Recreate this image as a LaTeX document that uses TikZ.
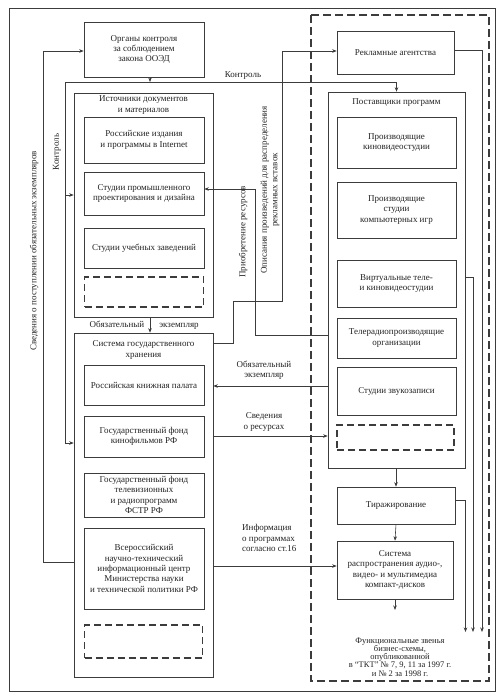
\documentclass[tikz,border=0pt]{standalone}
\usepackage{fontspec}
\setmainfont{Liberation Serif}
\usetikzlibrary{arrows.meta,calc}
\definecolor{lc}{HTML}{3C3C3C}
\definecolor{tc}{HTML}{222222}
\newcommand\dfont{\fontsize{9}{10.3}\selectfont}
\begin{document}
\begin{tikzpicture}[x=1pt,y=-1pt,
  box/.style={draw=lc, line width=0.6pt, inner sep=1pt, align=center, font=\dfont, text=tc},
  dbox/.style={draw=lc, line width=1.2pt, dash pattern=on 7pt off 4pt, inner sep=0pt},
  lbl/.style={font=\dfont, text=tc, align=center, inner sep=1pt},
  conn/.style={draw=lc, line width=0.6pt},
  arr/.style={conn, -{Stealth[length=4.5pt,width=3.5pt]}}]
\useasboundingbox (0,0) rectangle (502,699);
% frames
\draw[lc, line width=0.7pt] (9,8) rectangle (495,691);
\draw[lc, line width=1.1pt, dash pattern=on 8pt off 4pt] (311,15) rectangle (489,681);

% left column
\node[box, minimum width=120pt, minimum height=55pt] (org) at (144,49.5) {Органы контроля\\за соблюдением\\закона ООЭД};

\node[box, minimum width=139pt, minimum height=224pt] (ist) at (143.5,205) {};
\node[lbl] (istT) at (143.5,105) {Источники документов\\и материалов};
\node[box, minimum width=120pt, minimum height=46pt] (ri) at (144,140) {Российские издания\\и программы в Internet};
\node[box, minimum width=120pt, minimum height=43pt] (sp) at (144,193.5) {Студии промышленного\\проектирования и дизайна};
\node[box, minimum width=120pt, minimum height=40pt] (su) at (144,248) {Студии учебных заведений};
\node[dbox, minimum width=119pt, minimum height=30pt] (d1) at (144,292) {};

\node[box, minimum width=139pt, minimum height=344pt] (sys) at (143.5,505) {};
\node[lbl] (sysT) at (143.5,350) {Система государственного\\хранения};
\node[box, minimum width=120pt, minimum height=40pt] (rk) at (144,385) {Российская книжная палата};
\node[box, minimum width=120pt, minimum height=41pt] (gk) at (144,436.5) {Государственный фонд\\кинофильмов РФ};
\node[box, minimum width=120pt, minimum height=44pt] (gt) at (144,495) {Государственный фонд\\телевизионных\\и радиопрограмм\\ФСТР РФ};
\node[box, minimum width=120pt, minimum height=81pt] (vn) at (144,568.5) {Всероссийский\\научно-технический\\информационный центр\\Министерства науки\\и технической политики РФ};
\node[dbox, minimum width=118pt, minimum height=33pt] (d2) at (143.5,641.5) {};

% right column
\node[box, minimum width=117pt, minimum height=43pt] (ra) at (395.5,52.5) {Рекламные агентства};
\node[box, minimum width=137pt, minimum height=376pt] (pp) at (396.5,280) {};
\node[lbl] (ppT) at (396.5,103) {Поставщики программ};
\node[box, minimum width=119pt, minimum height=51pt] (kv) at (396.5,142.5) {Производящие\\киновидеостудии};
\node[box, minimum width=119pt, minimum height=56pt] (ki) at (396.5,210) {Производящие\\студии\\компьютерных игр};
\node[box, minimum width=119pt, minimum height=47pt] (vt) at (396.5,283.5) {Виртуальные теле-\\и киновидеостудии};
\node[box, minimum width=119pt, minimum height=40pt] (tr) at (396.5,338) {Телерадиопроизводящие\\организации};
\node[box, minimum width=119pt, minimum height=48pt] (sz) at (396.5,391) {Студии звукозаписи};
\node[dbox, minimum width=117pt, minimum height=25pt] (d3) at (395.5,437.5) {};
\node[box, minimum width=118pt, minimum height=37pt] (tir) at (396,505.5) {Тиражирование};
\node[box, minimum width=116pt, minimum height=58pt] (sr) at (395,570) {Система\\распространения аудио-,\\видео- и мультимедиа\\компакт-дисков};
\node[lbl, font=\fontsize{8.5}{8.2}\selectfont] (fn) at (400,657) {Функциональные звенья\\бизнес-схемы,\\опубликованной\\в “ТКТ” № 7, 9, 11 за 1997 г.\\и № 2 за 1998 г.};

% coordinates
\coordinate (kL) at (65,82);
\coordinate (a1) at (465.5,632);
\coordinate (a2) at (473,632);
\coordinate (a3) at (482,632);
\coordinate (srEnd) at (395,610);

% connectors
\draw[arr] (sys.west |- 0,562) -- (43,562) -- (43,51) -- (org.west |- 0,51);
\draw[arr] (org.south -| 150,0) -- (150,82);
\draw[arr] (kL) -- (pp.north |- kL) -- (pp.north);
\draw[arr] (kL) -- (65,443) -- (sys.west |- 0,443);
\draw[arr] (65,195) -- (ist.west |- 0,195);
\draw[arr] (sys.east |- 0,343) -- (233,343) -- (233,301) -- (282,301) -- (282,51) -- (ra.west |- 0,51);
\draw[arr] (pp.west |- 0,335) -- (255,335) -- (255,189) -- (sp.east |- 0,189);
\draw[arr] (pp.west |- 0,386) -- (sys.east |- 0,386);
\draw[arr] (sys.east |- 0,436) -- (pp.west |- 0,436);
\draw[arr] (sys.east |- 0,566) -- (sr.west |- 0,566);
\draw[arr] (ist.south -| 150,0) -- (sys.north -| 150,0);
\draw[arr] (pp.south -| tir.north) -- (tir.north);
\draw[arr] (tir.south) -- (sr.north);
\draw[arr] (sr.south) -- (srEnd);
\draw[arr] (ra.east |- 0,50) -| (a3);
\draw[arr] (pp.east |- 0,277) -| (a2);
\draw[arr] (tir.east |- 0,500) -| (a1);

% labels
\node[lbl] (lk1) at (243,76) {Контроль};
\node[lbl, rotate=90] (lk2) at (57,152) {Контроль};
\node[lbl, rotate=90] (lsv) at (34,251) {Сведения о поступлении обязательных экземпляров};
\node[lbl, rotate=90] (lop) at (270,190) {Описания произведений для распределения\\рекламных вставок};
\node[lbl, rotate=90] (lpr) at (243,232) {Приобретение ресурсов};
\node[lbl, anchor=base] (lo1) at (117,327) {Обязательный};
\node[lbl, anchor=base] (lo2) at (179,327) {экземпляр};
\node[lbl] (lo3) at (264,370) {Обязательный\\экземпляр};
\node[lbl] (lsr) at (264,422) {Сведения\\о ресурсах};
\node[lbl, align=left, anchor=west] (lin) at (241,538) {Информация\\о программах\\согласно ст.16};
\end{tikzpicture}
\end{document}
